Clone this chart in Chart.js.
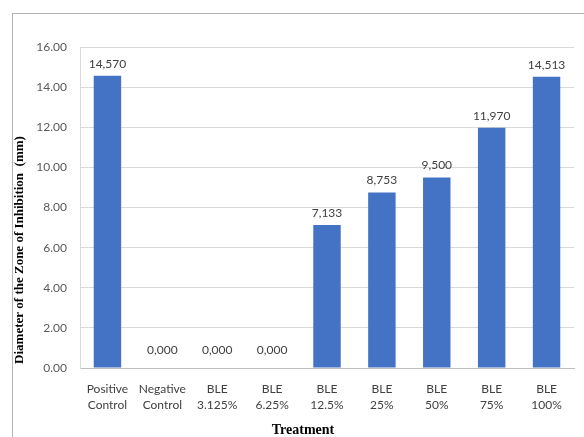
<!DOCTYPE html>
<html>
<head>
<meta charset="utf-8">
<script src="https://cdn.jsdelivr.net/npm/chart.js@4/dist/chart.umd.min.js"></script>
<style>
  html, body { margin: 0; padding: 0; background: #fff; }
  #wrap { position: relative; width: 584px; height: 437px; }
  #frame { position: absolute; left: 12px; top: 13px; width: 600px; height: 500px;
           border-left: 1px solid #b4b4b4; border-top: 1px solid #b4b4b4; pointer-events: none; }
</style>
</head>
<body>
<div id="wrap">
  <canvas id="chart"></canvas>
  <div id="frame"></div>
</div>
<script>
// categories + values
const treatments = [
  ["Positive", "Control"], ["Negative", "Control"], ["BLE", "3.125%"], ["BLE", "6.25%"],
  ["BLE", "12.5%"], ["BLE", "25%"], ["BLE", "50%"], ["BLE", "75%"], ["BLE", "100%"]
]
const zoneDiameter = [14.570, 0, 0, 0, 7.133, 8.753, 9.500, 11.970, 14.513]
const yTicks = [0, 2, 4, 6, 8, 10, 12, 14, 16]
const yTitle = "Diameter of the Zone of Inhibition  (mm)"
const xTitle = "Treatment"

const barLabels = {//writes 14,570 style values above each bar
  id: "barLabels",
  afterDatasetsDraw(chart) {
    const ctx = chart.ctx
    const meta = chart.getDatasetMeta(0)
    ctx.save()
    ctx.font = "12px Lato"
    ctx.fillStyle = "#404040"
    ctx.textAlign = "center"
    ctx.textBaseline = "middle"
    meta.data.forEach((bar, i) => {
      let v = chart.data.datasets[0].data[i]
      let off = v == 0 ? 18 : 12
      ctx.fillText(v.toFixed(3).replace(".", ","), bar.x, bar.y - off)
    })
    ctx.restore()
  }
}

const axisTitles = {//excel style titles, not centered on the plot
  id: "axisTitles",
  afterDraw(chart) {
    const ctx = chart.ctx
    const a = chart.chartArea
    ctx.save()
    ctx.fillStyle = "#000"
    ctx.font = "bold 13px 'Liberation Serif'"
    ctx.textAlign = "center"
    ctx.textBaseline = "middle"
    ctx.translate(20, a.bottom - 118)
    ctx.rotate(-Math.PI / 2)
    ctx.fillText(yTitle, 0, 0)
    ctx.restore()
    ctx.save()
    ctx.font = "bold 14px 'Liberation Serif'"
    ctx.textAlign = "center"
    ctx.textBaseline = "middle"
    ctx.fillStyle = "#000"
    ctx.fillText(xTitle, a.left + 223, 430)
    ctx.restore()
  }
}

const chart = new Chart(document.getElementById("chart"), {
  type: "bar",
  data: {
    labels: treatments,
    datasets: [{
      data: zoneDiameter,
      backgroundColor: "#4472C4",
      categoryPercentage: 1,
      barPercentage: 0.5
    }]
  },
  options: {
    responsive: true,
    maintainAspectRatio: false,
    animation: false,
    layout: { padding: { left: 0, top: 47, right: 10, bottom: 0 } },
    plugins: { legend: { display: false }, tooltip: { enabled: false } },
    scales: {
      x: {
        grid: { display: false },
        border: { display: true, color: "#bfbfbf" },
        ticks: { color: "#404040", font: { family: "Lato", size: 12, lineHeight: 1.35 }, padding: 5, maxRotation: 0, autoSkip: false },
        afterFit: (s) => { s.height = 69 }
      },
      y: {
        min: 0,
        max: 16,
        afterBuildTicks: (s) => { s.ticks = yTicks.map(v => ({ value: v })) },
        grid: { color: "#d9d9d9", drawTicks: false },
        border: { display: true, color: "#d9d9d9" },
        ticks: {
          color: "#595959",
          font: { family: "Lato", size: 12 },
          padding: 13,
          callback: (v) => v.toFixed(2)
        },
        afterFit: (s) => { s.width = 80 }
      }
    }
  },
  plugins: [barLabels, axisTitles]
})
</script>
</body>
</html>
